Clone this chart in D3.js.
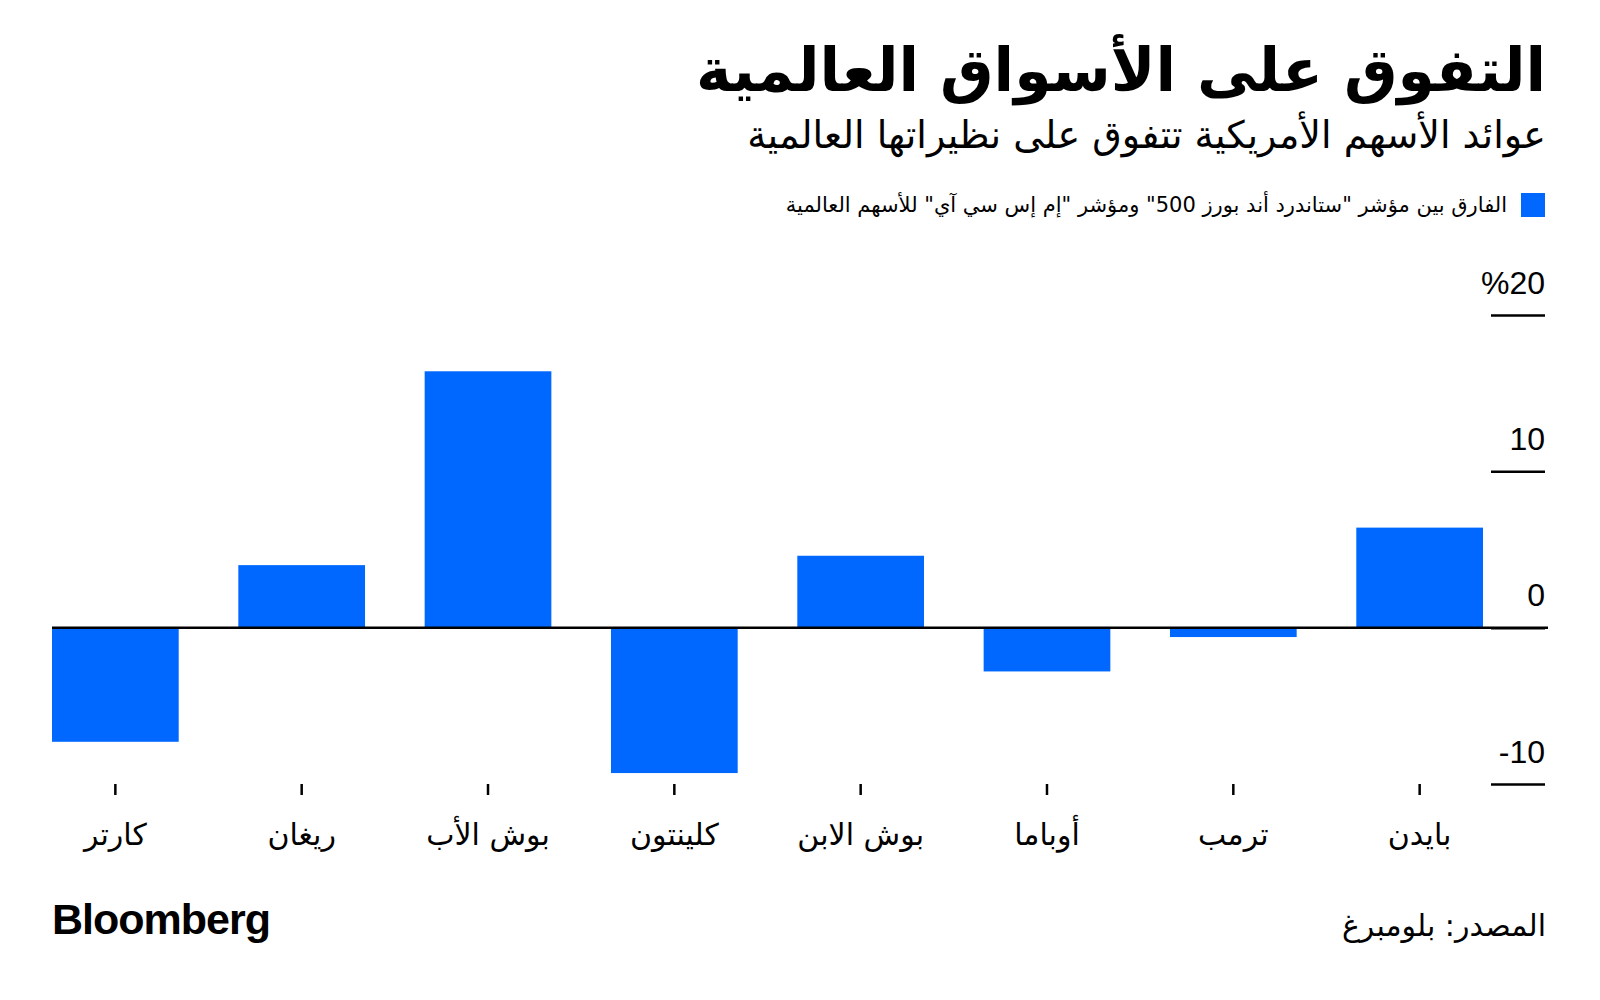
<!DOCTYPE html>
<html>
<head>
<meta charset="utf-8">
<script src="https://cdn.jsdelivr.net/npm/d3@7"></script>
<style>
  body { margin: 0; background: #fff; }
  text { fill: #000; }
  .ar { font-family: "DejaVu Sans", sans-serif; }
  .num { font-family: "Liberation Sans", Arial, sans-serif; }
</style>
</head>
<body>
<script>
// data
var presidents = ["كارتر", "ريغان", "بوش الأب", "كلينتون", "بوش الابن", "أوباما", "ترمب", "بايدن"];
var spread = [-7.3, 4.0, 16.4, -9.3, 4.6, -2.8, -0.6, 6.4];
var yTicks = [-10, 0, 10, 20];
var yTickLabels = ["-10", "0", "10", "%20"];

var width = 1600, height = 1000;
var blue = "#0068ff";

var svg = d3.select("body")
    .append("svg")
    .attr("width", width)
    .attr("height", height);

// titles
svg.append("text")
    .attr("class", "ar")
    .attr("x", 1546).attr("y", 91)
    .attr("direction", "rtl")
    .attr("text-anchor", "start")
    .style("font-size", "60px")
    .style("font-weight", "bold")
    .text("التفوق على الأسواق العالمية");

svg.append("text")
    .attr("class", "ar")
    .attr("x", 1546).attr("y", 148)
    .attr("direction", "rtl")
    .attr("text-anchor", "start")
    .style("font-size", "38px")
    .text("عوائد الأسهم الأمريكية تتفوق على نظيراتها العالمية");

// legend
svg.append("rect")
    .attr("x", 1521).attr("y", 193)
    .attr("width", 24).attr("height", 24)
    .attr("fill", blue);

svg.append("text")
    .attr("class", "ar")
    .attr("x", 1507).attr("y", 212)
    .attr("direction", "rtl")
    .attr("text-anchor", "start")
    .style("font-size", "21px")
    .text("الفارق بين مؤشر \"ستاندرد أند بورز 500\" ومؤشر \"إم إس سي آي\" للأسهم العالمية");

// scales
var xScale = d3.scaleBand()
    .domain(presidents)
    .range([52, 1483])
    .paddingInner(0.32)
    .paddingOuter(0);

var yScale = d3.scaleLinear()
    .domain([-10, 20])
    .range([784, 315]);

// bars
svg.selectAll(".bar")
    .data(spread)
    .enter()
    .append("rect")
    .attr("class", "bar")
    .attr("x", function(d, i) { return xScale(presidents[i]); })
    .attr("y", function(d) { return yScale(Math.max(0, d)); })
    .attr("width", xScale.bandwidth())
    .attr("height", function(d) { return Math.abs(yScale(d) - yScale(0)); })
    .attr("fill", blue);

// zero line
svg.append("line")
    .attr("x1", 52).attr("x2", 1548)
    .attr("y1", yScale(0)).attr("y2", yScale(0))
    .attr("stroke", "#000")
    .attr("stroke-width", 2.5);

// y axis on the right
var yAxis = d3.axisLeft(yScale)
    .tickValues(yTicks)
    .tickSize(54)
    .tickFormat(function(d, i) { return yTickLabels[i]; });

var gy = svg.append("g")
    .attr("transform", "translate(1545,0)")
    .call(yAxis);
gy.select(".domain").remove();
gy.selectAll(".tick line").attr("stroke", "#000").attr("stroke-width", 2.5);
gy.selectAll(".tick text")
    .attr("class", "num")
    .attr("x", 0)
    .attr("dy", -22)
    .attr("text-anchor", "end")
    .style("font-size", "32px")
    .attr("fill", "#000");

// x axis
var xAxis = d3.axisBottom(xScale).tickSize(11).tickPadding(0);
var gx = svg.append("g")
    .attr("transform", "translate(0,784)")
    .call(xAxis);
gx.select(".domain").remove();
gx.selectAll(".tick line").attr("stroke", "#000").attr("stroke-width", 2.5);
gx.selectAll(".tick text")
    .attr("class", "ar")
    .attr("y", 61)
    .attr("dy", 0)
    .style("font-size", "30px")
    .attr("fill", "#000");

// footer
svg.append("text")
    .attr("class", "num")
    .attr("x", 52).attr("y", 934)
    .style("font-size", "43px")
    .style("font-weight", "bold")
    .style("letter-spacing", "-1px")
    .text("Bloomberg");

svg.append("text")
    .attr("class", "ar")
    .attr("x", 1546).attr("y", 936)
    .attr("direction", "rtl")
    .attr("text-anchor", "start")
    .style("font-size", "30px")
    .text("المصدر: بلومبرغ");
</script>
</body>
</html>
